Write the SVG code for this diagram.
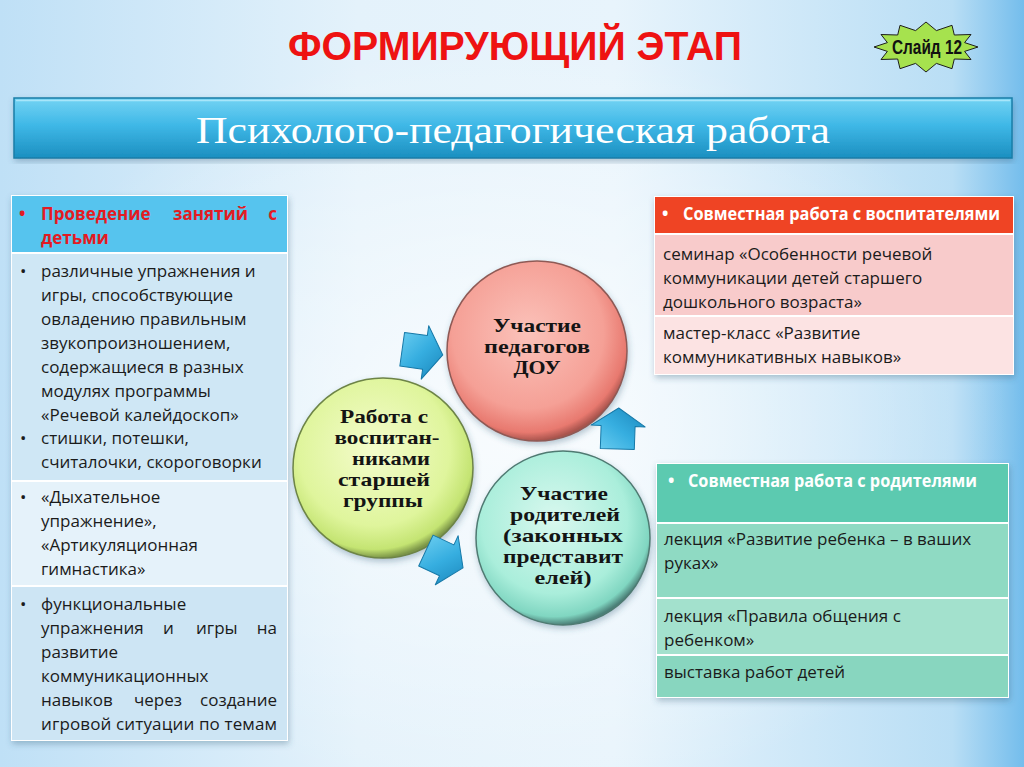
<svg xmlns="http://www.w3.org/2000/svg" width="1024" height="767" viewBox="0 0 1024 767">
<defs>
<linearGradient id="bgH" x1="0" y1="0" x2="1" y2="0">
<stop offset="0" stop-color="#bfe0f6"/>
<stop offset="0.35" stop-color="#e4f2fb"/>
<stop offset="0.6" stop-color="#e8f4fc"/>
<stop offset="0.93" stop-color="#b9def5"/>
<stop offset="1" stop-color="#74bdec"/>
</linearGradient>
<radialGradient id="glow" cx="0.5" cy="0.55" r="0.5">
<stop offset="0" stop-color="#ffffff" stop-opacity="0.75"/>
<stop offset="1" stop-color="#ffffff" stop-opacity="0"/>
</radialGradient>
<linearGradient id="banner" x1="0" y1="0" x2="0" y2="1">
<stop offset="0" stop-color="#74d3f3"/>
<stop offset="0.45" stop-color="#3fb8e7"/>
<stop offset="1" stop-color="#1b8fc0"/>
</linearGradient>
<linearGradient id="arrowG" x1="0" y1="0" x2="1" y2="1">
<stop offset="0" stop-color="#6fd0f2"/>
<stop offset="0.5" stop-color="#36aee0"/>
<stop offset="1" stop-color="#1a86bb"/>
</linearGradient>
<radialGradient id="redG" cx="0.45" cy="0.4" r="0.6">
<stop offset="0" stop-color="#fbc2ba"/>
<stop offset="0.7" stop-color="#f5a096"/>
<stop offset="0.92" stop-color="#e8796f"/>
<stop offset="1" stop-color="#a9544d"/>
</radialGradient>
<radialGradient id="greenG" cx="0.45" cy="0.4" r="0.6">
<stop offset="0" stop-color="#f4fccc"/>
<stop offset="0.7" stop-color="#dff59c"/>
<stop offset="0.92" stop-color="#c4e472"/>
<stop offset="1" stop-color="#7c9648"/>
</radialGradient>
<radialGradient id="tealG" cx="0.45" cy="0.4" r="0.6">
<stop offset="0" stop-color="#d9f8ef"/>
<stop offset="0.7" stop-color="#aaeedb"/>
<stop offset="0.92" stop-color="#80d6c1"/>
<stop offset="1" stop-color="#4c8078"/>
</radialGradient>
<filter id="sh" x="-10%" y="-10%" width="120%" height="120%">
<feDropShadow dx="1" dy="3" stdDeviation="3" flood-color="#36607a" flood-opacity="0.35"/>
</filter>
<path id="arr" d="M -20,-17 L 3,-17 L 3,-27 L 21,0 L 3,27 L 3,17 L -20,17 Z"/>
<style>
.t{font-family:"Open Sans","Noto Sans","Liberation Sans",sans-serif;font-size:17px;fill:#1b1b1b}
.hb{font-family:"Open Sans","Noto Sans","Liberation Sans",sans-serif;font-size:17px;font-weight:bold}
.c{font-family:"Liberation Serif","Times New Roman",serif;font-size:19px;font-weight:bold;fill:#141414;text-anchor:middle}
.arrow{fill:url(#arrowG);stroke:#1679a8;stroke-width:1;stroke-linejoin:round}
</style>
</defs>

<rect width="1024" height="767" fill="url(#bgH)"/>
<rect width="1024" height="767" fill="url(#glow)"/>

<g id="title">
<text x="515" y="60" text-anchor="middle" font-family="'Liberation Sans Narrow','Liberation Sans',sans-serif" font-weight="bold" font-size="41" fill="#ee1212" textLength="454" lengthAdjust="spacingAndGlyphs">ФОРМИРУЮЩИЙ ЭТАП</text>
</g>

<g id="slide-badge">
<polygon points="978,47 964.6,51.4 971,59.5 954.3,59 952,68.7 936.4,63.4 926,72 915.6,63.4 900,68.7 897.7,59 881,59.5 887.4,51.4 874,47 887.4,42.6 881,34.5 897.7,35 900,25.3 915.6,30.6 926,22 936.4,30.6 952,25.3 954.3,35 971,34.5 964.6,42.6" fill="#a6e24e" stroke="#1e1e1e" stroke-width="1"/>
<text x="927" y="54" text-anchor="middle" font-family="'Liberation Sans Narrow','Liberation Sans',sans-serif" font-weight="bold" font-size="20" fill="#111" textLength="70" lengthAdjust="spacingAndGlyphs">Слайд 12</text>
</g>

<g id="banner">
<rect x="14" y="98" width="998" height="60" fill="url(#banner)" stroke="#1a7ea8" stroke-width="1.5" filter="url(#sh)"/>
<line x1="16" y1="100.5" x2="1010" y2="100.5" stroke="#a8e6fa" stroke-width="1.5"/>
<text x="513" y="143" text-anchor="middle" font-family="'Liberation Serif','Times New Roman',serif" font-size="37" fill="#ffffff" textLength="634" lengthAdjust="spacingAndGlyphs">Психолого-педагогическая работа</text>
</g>

<g id="left-table">
<g filter="url(#sh)">
<rect x="11" y="195" width="277" height="546" fill="#ffffff"/>
</g>
<rect x="12" y="196" width="275" height="56" fill="#56c4ee"/>
<rect x="12" y="254" width="275" height="226" fill="#cfe7f5"/>
<rect x="12" y="482" width="275" height="103" fill="#e5f2fa"/>
<rect x="12" y="587" width="275" height="153" fill="#cde5f4"/>
<g class="hb" fill="#e31b23">
<text x="19" y="220">•</text>
<text x="41" y="220">Проведение</text>
<text x="173" y="220">занятий</text>
<text x="277" y="220" text-anchor="end">с</text>
<text x="41" y="244">детьми</text>
</g>
<g class="t">
<text x="20" y="277">•</text>
<text x="41" y="277">различные упражнения и</text>
<text x="41" y="301">игры, способствующие</text>
<text x="41" y="325">овладению правильным</text>
<text x="41" y="349">звукопроизношением,</text>
<text x="41" y="373">содержащиеся в  разных</text>
<text x="41" y="397">модулях программы</text>
<text x="41" y="421">«Речевой калейдоскоп»</text>
<text x="20" y="444">•</text>
<text x="41" y="444">стишки, потешки,</text>
<text x="41" y="468">считалочки, скороговорки</text>
<text x="20" y="503">•</text>
<text x="41" y="503">«Дыхательное</text>
<text x="41" y="527">упражнение»,</text>
<text x="41" y="551">«Артикуляционная</text>
<text x="41" y="575">гимнастика»</text>
<text x="20" y="610">•</text>
<text x="41" y="610">функциональные</text>
<text x="41" y="634">упражнения</text>
<text x="163" y="634">и</text>
<text x="196" y="634">игры</text>
<text x="277" y="634" text-anchor="end">на</text>
<text x="41" y="658">развитие</text>
<text x="41" y="682">коммуникационных</text>
<text x="41" y="706">навыков</text>
<text x="134" y="706">через</text>
<text x="277" y="706" text-anchor="end">создание</text>
<text x="41" y="730" textLength="236" lengthAdjust="spacing">игровой ситуации по темам</text>
</g>
</g>

<g id="right-top-table">
<g filter="url(#sh)">
<rect x="654" y="196" width="360" height="179" fill="#ffffff"/>
</g>
<rect x="655" y="197" width="358" height="36" fill="#ef4424"/>
<rect x="655" y="235" width="358" height="80" fill="#f8cbcb"/>
<rect x="655" y="317" width="358" height="57" fill="#fce3e3"/>
<g class="hb" fill="#ffffff">
<text x="662" y="220">•</text>
<text x="683" y="220" textLength="317" lengthAdjust="spacingAndGlyphs">Совместная работа с воспитателями</text>
</g>
<g class="t">
<text x="663" y="260">семинар «Особенности речевой</text>
<text x="663" y="284">коммуникации детей старшего</text>
<text x="663" y="308">дошкольного возраста»</text>
<text x="663" y="339">мастер-класс «Развитие</text>
<text x="663" y="363">коммуникативных навыков»</text>
</g>
</g>

<g id="right-bottom-table">
<g filter="url(#sh)">
<rect x="656" y="463" width="353" height="235" fill="#ffffff"/>
</g>
<rect x="657" y="464" width="351" height="58" fill="#5ccab0"/>
<rect x="657" y="524" width="351" height="73" fill="#8fdac3"/>
<rect x="657" y="599" width="351" height="55" fill="#a3e1cd"/>
<rect x="657" y="656" width="351" height="41" fill="#88d6bf"/>
<g class="hb" fill="#ffffff">
<text x="668" y="487">•</text>
<text x="688" y="487" textLength="289" lengthAdjust="spacingAndGlyphs">Совместная работа с родителями</text>
</g>
<g class="t">
<text x="664" y="545">лекция «Развитие ребенка – в ваших</text>
<text x="664" y="569">руках»</text>
<text x="664" y="622">лекция «Правила общения с</text>
<text x="664" y="646">ребенком»</text>
<text x="664" y="678">выставка работ детей</text>
</g>
</g>

<g id="node-teachers">
<circle cx="537" cy="351" r="90" fill="url(#redG)" stroke="#8e5a55" stroke-width="1.5" filter="url(#sh)"/>
<text class="c" x="537" y="332" textLength="88" lengthAdjust="spacingAndGlyphs">Участие</text>
<text class="c" x="537" y="353" textLength="106" lengthAdjust="spacingAndGlyphs">педагогов</text>
<text class="c" x="537" y="374" textLength="47" lengthAdjust="spacingAndGlyphs">ДОУ</text>
</g>

<g id="node-children">
<circle cx="383" cy="468" r="90" fill="url(#greenG)" stroke="#6d8446" stroke-width="1.5" filter="url(#sh)"/>
<text class="c" x="384" y="423" textLength="88" lengthAdjust="spacingAndGlyphs">Работа с</text>
<text class="c" x="387" y="444" textLength="105" lengthAdjust="spacingAndGlyphs">воспитан-</text>
<text class="c" x="391" y="465" textLength="78" lengthAdjust="spacingAndGlyphs">никами</text>
<text class="c" x="384" y="486" textLength="92" lengthAdjust="spacingAndGlyphs">старшей</text>
<text class="c" x="383" y="507" textLength="80" lengthAdjust="spacingAndGlyphs">группы</text>
</g>

<g id="node-parents">
<circle cx="563" cy="538" r="87" fill="url(#tealG)" stroke="#4f7a72" stroke-width="1.5" filter="url(#sh)"/>
<text class="c" x="564" y="500" textLength="88" lengthAdjust="spacingAndGlyphs">Участие</text>
<text class="c" x="565" y="521" textLength="110" lengthAdjust="spacingAndGlyphs">родителей</text>
<text class="c" x="563" y="542" textLength="120" lengthAdjust="spacingAndGlyphs">(законных</text>
<text class="c" x="563" y="563" textLength="120" lengthAdjust="spacingAndGlyphs">представит</text>
<text class="c" x="563" y="584" textLength="57" lengthAdjust="spacingAndGlyphs">елей)</text>
</g>

<g id="connectors">
<use href="#arr" class="arrow" transform="translate(422,352) rotate(8)"/>
<use href="#arr" class="arrow" transform="translate(618,429) rotate(-88)"/>
<use href="#arr" class="arrow" transform="translate(444,559) rotate(25)"/>
</g>
</svg>
